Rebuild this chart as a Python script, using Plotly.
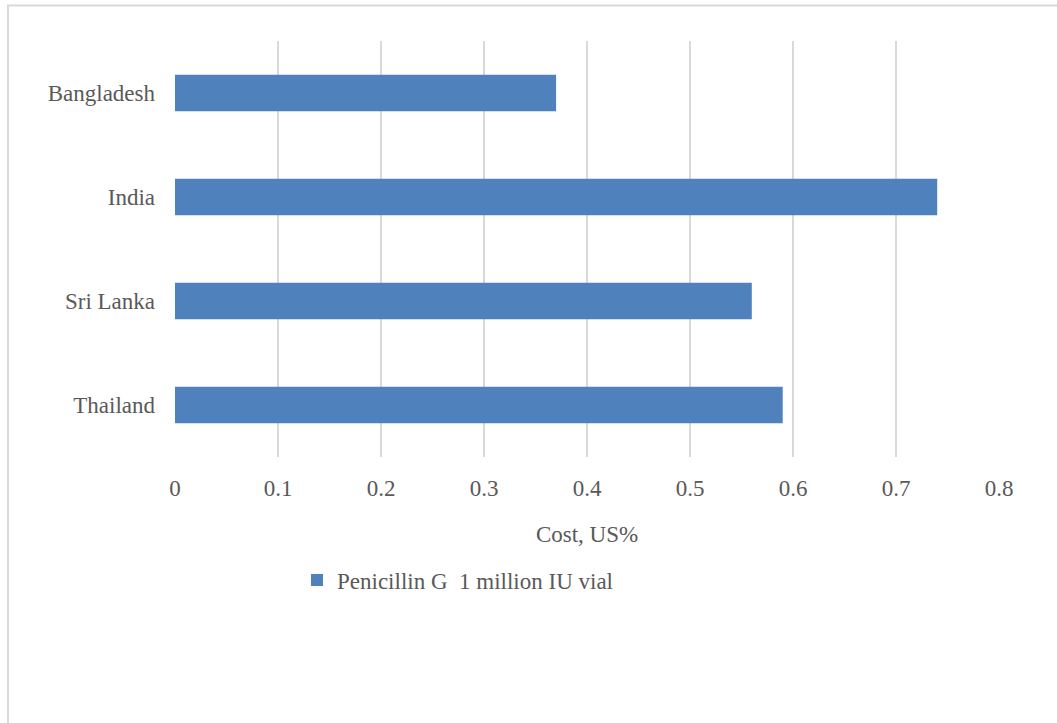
import plotly.graph_objects as go

countries = ["Bangladesh", "India", "Sri Lanka", "Thailand"]
costs = [0.37, 0.74, 0.56, 0.59]
series_name = "Penicillin G  1 million IU vial"
x_ticks = [0, 0.1, 0.2, 0.3, 0.4, 0.5, 0.6, 0.7, 0.8]

W, H = 1057, 723
FONT = "Liberation Serif"
GRAY = "#595959"
FS = 23

fig = go.Figure()
fig.add_trace(go.Bar(
    y=countries, x=costs, orientation="h", name=series_name,
    marker=dict(color="#4F81BD", line=dict(width=0)),
    showlegend=True,
))

fig.update_layout(
    width=W, height=H,
    margin=dict(l=0, r=0, t=0, b=0),
    paper_bgcolor="white", plot_bgcolor="white",
    bargap=0.65,
    font=dict(family=FONT, size=FS, color=GRAY),
    xaxis=dict(
        domain=[175 / W, 999 / W],
        range=[0, 0.8], tickvals=x_ticks, ticktext=[f"{v:g}" for v in x_ticks],
        showgrid=True, gridcolor="#D9D9D9", gridwidth=1.5,
        zeroline=False, showline=False, ticks="", ticklen=0,
        automargin=False, ticklabelstandoff=15,
        tickfont=dict(family=FONT, size=FS, color=GRAY),
        title=dict(text="Cost, US%", font=dict(family=FONT, size=FS, color=GRAY), standoff=25),
    ),
    yaxis=dict(
        domain=[1 - 457 / H, 1 - 41 / H],
        categoryorder="array", categoryarray=countries[::-1],
        showgrid=False, zeroline=False, showline=False, ticks="",
        automargin=False, ticklabelstandoff=19,
        tickfont=dict(family=FONT, size=FS, color=GRAY),
    ),
    legend=dict(
        orientation="h", x=297 / W, y=1 - 580 / H, xanchor="left", yanchor="middle",
        font=dict(family=FONT, size=FS, color=GRAY),
        itemwidth=30, bgcolor="rgba(0,0,0,0)",
    ),
    shapes=[dict(
        type="rect", xref="paper", yref="paper",
        x0=8 / W, x1=1.02, y0=-0.02, y1=1 - 5.5 / H,
        line=dict(color="#D9D9D9", width=2), fillcolor="rgba(0,0,0,0)", layer="below",
    )],
)

fig.write_html("out.html")
